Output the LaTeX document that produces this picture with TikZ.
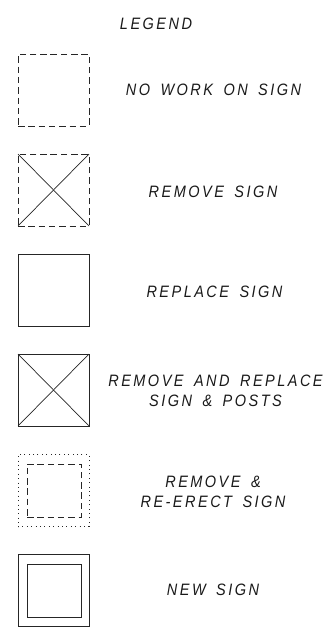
\documentclass[tikz,border=0pt]{standalone}
\usepackage{fontspec}
\setmainfont{Liberation Sans}[LetterSpace=15, FakeStretch=0.88, WordSpace=1.6]
\begin{document}
\begin{tikzpicture}[x=1pt,y=-1pt,
  symbox/.style={draw=black!85, line width=0.8pt, minimum width=71pt, minimum height=72pt, inner sep=0pt, outer sep=0pt},
  innerbox/.style={draw=black!85, line width=0.8pt, minimum width=54pt, minimum height=53pt, inner sep=0pt, outer sep=0pt},
  dashedline/.style={dash pattern=on 6.5pt off 3.8pt},
  dottedline/.style={dash pattern=on 1pt off 3.4pt},
  crossline/.style={draw=black!85, line width=0.7pt},
  lbl/.style={font=\fontsize{16.5}{20}\selectfont\itshape, inner sep=0pt, align=center, text=black!90}]
\useasboundingbox (0,0) rectangle (328,635);

\node[lbl] (title) at (156,24) {LEGEND};

% 1 no work on sign
\node[symbox, dashedline] (b1) at (53.5,90) {};
\node[lbl] (t1) at (213.5,90) {NO WORK ON SIGN};

% 2 remove sign
\node[symbox, dashedline] (b2) at (53.5,190) {};
\draw[crossline] (b2.north west) -- (b2.south east);
\draw[crossline] (b2.north east) -- (b2.south west);
\node[lbl] (t2) at (213,192) {REMOVE SIGN};

% 3 replace sign
\node[symbox] (b3) at (53.5,290) {};
\node[lbl] (t3) at (214.5,292) {REPLACE SIGN};

% 4 remove and replace sign & posts
\node[symbox] (b4) at (53.5,390) {};
\draw[crossline] (b4.north west) -- (b4.south east);
\draw[crossline] (b4.north east) -- (b4.south west);
\node[lbl] (t4) at (215.5,391) {REMOVE AND REPLACE\\SIGN \& POSTS};

% 5 remove & re-erect sign
\node[symbox, dottedline] (b5) at (53.5,490.5) {};
\node[innerbox, dashedline] (b5i) at (54,490.5) {};
\node[lbl] (t5) at (213,492) {REMOVE \&\\RE-ERECT SIGN};

% 6 new sign
\node[symbox] (b6) at (53.5,590.5) {};
\node[innerbox] (b6i) at (54,590.5) {};
\node[lbl] (t6) at (213,590) {NEW SIGN};
\end{tikzpicture}
\end{document}
